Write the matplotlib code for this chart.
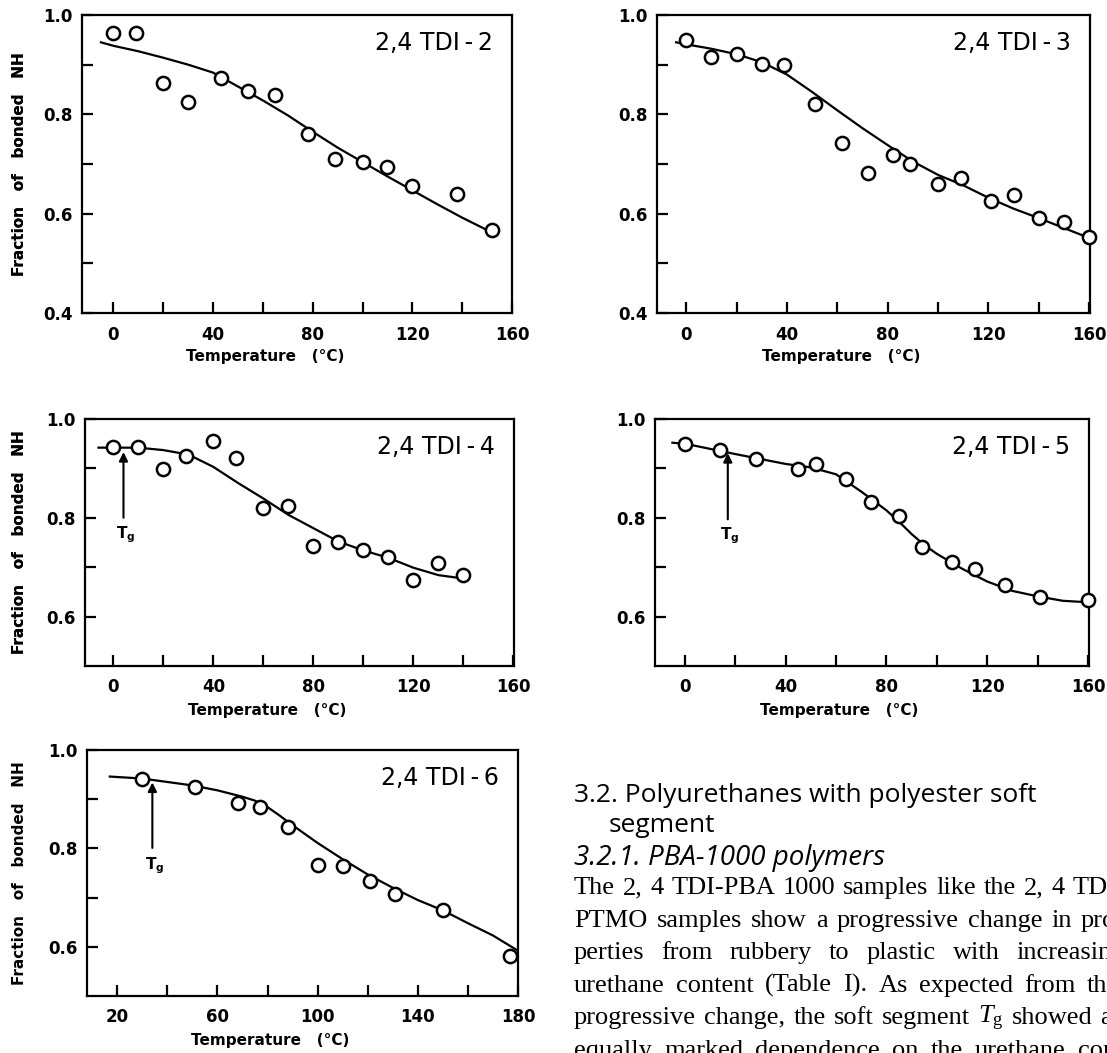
import matplotlib
matplotlib.use('Agg')
import matplotlib.pyplot as plt

W, H = 1107, 1053

# --- data ---
# 2,4 TDI-2
t2 = [0, 9, 20, 30, 43, 54, 65, 78, 89, 100, 110, 120, 138, 152]
f2 = [0.964, 0.964, 0.863, 0.824, 0.874, 0.846, 0.838, 0.761, 0.710, 0.704, 0.693, 0.655, 0.640, 0.567]
fit2_t = [-5, 0, 10, 20, 30, 40, 50, 60, 70, 80, 90, 100, 110, 120, 130, 140, 152]
fit2_f = [0.945, 0.938, 0.927, 0.914, 0.900, 0.884, 0.856, 0.828, 0.798, 0.765, 0.733, 0.704,
          0.675, 0.647, 0.619, 0.592, 0.562]

# 2,4 TDI-3
t3 = [0, 10, 20, 30, 39, 51, 62, 72, 82, 89, 100, 109, 121, 130, 140, 150, 160]
f3 = [0.949, 0.915, 0.922, 0.902, 0.899, 0.821, 0.742, 0.682, 0.718, 0.701, 0.660, 0.671,
      0.625, 0.638, 0.591, 0.583, 0.553]
fit3_t = [-4, 0, 10, 20, 30, 40, 50, 60, 70, 80, 90, 100, 110, 120, 130, 140, 150, 160]
fit3_f = [0.945, 0.941, 0.932, 0.921, 0.905, 0.880, 0.845, 0.808, 0.772, 0.738, 0.705, 0.678,
          0.657, 0.632, 0.610, 0.591, 0.571, 0.551]

# 2,4 TDI-4
t4 = [0, 10, 20, 29, 40, 49, 60, 70, 80, 90, 100, 110, 120, 130, 140]
f4 = [0.944, 0.943, 0.898, 0.925, 0.955, 0.921, 0.819, 0.823, 0.742, 0.751, 0.734, 0.720,
      0.675, 0.708, 0.684]
fit4_t = [-6, 0, 10, 20, 30, 40, 50, 60, 70, 80, 90, 100, 110, 120, 130, 140]
fit4_f = [0.942, 0.942, 0.942, 0.937, 0.928, 0.903, 0.870, 0.839, 0.806, 0.779, 0.752, 0.734,
          0.719, 0.699, 0.684, 0.677]

# 2,4 TDI-5
t5 = [0, 14, 28, 45, 52, 64, 74, 85, 94, 106, 115, 127, 141, 160]
f5 = [0.950, 0.937, 0.920, 0.899, 0.909, 0.878, 0.832, 0.804, 0.740, 0.711, 0.696, 0.664,
      0.639, 0.634]
fit5_t = [-5, 0, 20, 40, 50, 60, 70, 75, 80, 85, 90, 95, 100, 110, 120, 130, 140, 150, 160]
fit5_f = [0.952, 0.950, 0.929, 0.909, 0.902, 0.888, 0.853, 0.834, 0.815, 0.792, 0.767, 0.745,
          0.727, 0.697, 0.671, 0.652, 0.641, 0.632, 0.629]

# 2,4 TDI-6
t6 = [30, 51, 68, 77, 88, 100, 110, 121, 131, 150, 177]
f6 = [0.942, 0.924, 0.892, 0.884, 0.843, 0.767, 0.764, 0.734, 0.707, 0.674, 0.581]
fit6_t = [17, 30, 40, 50, 60, 70, 75, 80, 85, 90, 100, 110, 120, 130, 140, 150, 160, 170, 180]
fit6_f = [0.946, 0.942, 0.935, 0.928, 0.918, 0.905, 0.897, 0.884, 0.866, 0.847, 0.811, 0.778,
          0.747, 0.720, 0.695, 0.674, 0.648, 0.623, 0.592]

# Tg arrows: x, arrow tip, arrow tail, label y
tg4 = [4, 0.933, 0.800, 0.766]
tg5 = [17, 0.931, 0.797, 0.763]
tg6 = [34, 0.934, 0.801, 0.764]

plt.rcParams['font.family'] = ['DejaVu Sans']
plt.rcParams['mathtext.fontset'] = 'custom'
plt.rcParams['mathtext.rm'] = 'Liberation Serif'
plt.rcParams['mathtext.it'] = 'Liberation Serif:italic'
plt.rcParams['mathtext.bf'] = 'DejaVu Sans:bold'

fig = plt.figure(figsize=(W / 100, H / 100), dpi=100)


def panel(box, xlim, ylim, xmaj, xmin, ymaj, ymin, t, f, fit_t, fit_f, name, tg=None):
    l, r, top, bot = box
    ax = fig.add_axes([l / W, 1 - bot / H, (r - l) / W, (bot - top) / H])
    ax.plot(fit_t, fit_f, color='black', lw=1.6, zorder=2)
    ax.plot(t, f, 'o', ms=9.5, mfc='white', mec='black', mew=1.8, zorder=3, clip_on=False)
    ax.set_xlim(xlim)
    ax.set_ylim(ylim)
    ax.set_xticks(xmaj)
    ax.set_xticks(xmin, minor=True)
    ax.set_yticks(ymaj)
    ax.set_yticks(ymin, minor=True)
    ax.set_yticklabels([f'{v:.1f}' for v in ymaj])
    ax.tick_params(which='both', direction='in', length=8, width=1.6, top=False, right=False,
                   labelsize=12)
    ax.tick_params(axis='x', pad=9)
    ax.tick_params(axis='y', pad=7)
    for lbl in ax.get_xticklabels() + ax.get_yticklabels():
        lbl.set_fontweight('bold')
    for s in ax.spines.values():
        s.set_linewidth(1.6)
    ax.set_xlabel('Temperature   (°C)', fontsize=11, fontweight='bold')
    ax.xaxis.set_label_coords(0.425, -44 / (bot - top))
    ax.xaxis.label.set_va('center')
    ax.set_ylabel('Fraction   of   bonded   NH', fontsize=11, fontweight='bold')
    ax.yaxis.set_label_coords(-(l - 20) / (r - l), 0.5)
    ax.yaxis.label.set_va('center')
    ax.text(1 - 19 / (r - l), 1 - 28 / (bot - top), name, transform=ax.transAxes,
            ha='right', va='center', fontsize=17)
    if tg:
        x, tip, tail, ty = tg
        ax.annotate('', xy=(x, tip), xytext=(x, tail),
                    arrowprops=dict(arrowstyle='-|>', color='black', lw=1.5,
                                    mutation_scale=13, shrinkA=0, shrinkB=0))
        ax.text(x + 0.8, ty, r'$\mathbf{T_g}$', ha='center', va='center', fontsize=11)
    return ax


panel((82, 512, 15, 313), (-12.6, 159.6), (0.4, 1.0), [0, 40, 80, 120, 160], [20, 60, 100, 140],
      [0.4, 0.6, 0.8, 1.0], [0.5, 0.7, 0.9], t2, f2, fit2_t, fit2_f, '2,4 TDI\u2009-\u20092')
panel((657, 1090, 15, 313), (-11.6, 160.3), (0.4, 1.0), [0, 40, 80, 120, 160], [20, 60, 100, 140],
      [0.4, 0.6, 0.8, 1.0], [0.5, 0.7, 0.9], t3, f3, fit3_t, fit3_f, '2,4 TDI\u2009-\u20093')
panel((85, 514, 419, 666), (-11.4, 160.3), (0.5, 1.0), [0, 40, 80, 120, 160], [20, 60, 100, 140],
      [0.6, 0.8, 1.0], [0.7, 0.9], t4, f4, fit4_t, fit4_f, '2,4 TDI\u2009-\u20094', tg4)
panel((655, 1089, 419, 666), (-11.9, 160.4), (0.5, 1.0), [0, 40, 80, 120, 160], [20, 60, 100, 140],
      [0.6, 0.8, 1.0], [0.7, 0.9], t5, f5, fit5_t, fit5_f, '2,4 TDI\u2009-\u20095', tg5)
panel((87, 518, 750, 996), (7.9, 180), (0.5, 1.0), [20, 60, 100, 140, 180], [40, 80, 120, 160],
      [0.6, 0.8, 1.0], [0.7, 0.9], t6, f6, fit6_t, fit6_f, '2,4 TDI\u2009-\u20096', tg6)

# --- running text of the page, bottom right (cut by the page edge as in the scan) ---
fig.text(574 / W, 1 - 795 / H, '3.2. Polyurethanes with polyester soft', fontsize=19,
         family='Open Sans', va='center')
fig.text(609 / W, 1 - 825 / H, 'segment', fontsize=19, family='Open Sans', va='center')
fig.text(574 / W, 1 - 858 / H, '3.2.1. PBA-1000 polymers', fontsize=20, family='Open Sans',
         style='italic', va='center')

body = [
    'The 2, 4 TDI-PBA 1000 samples like the 2, 4 TDI-',
    'PTMO samples show a progressive change in pro-',
    'perties from rubbery to plastic with increasing',
    'urethane content (Table I). As expected from this',
    r'progressive change, the soft segment $T_{\mathrm{g}}$ showed an',
    'equally marked dependence on the urethane con-',
]

renderer = fig.canvas.get_renderer()
x0, x1 = 574, 1125
for i, line in enumerate(body):
    y = 1 - (888 + 32.6 * i) / H
    words = line.split(' ')
    items = [fig.text(0, y, w, fontsize=19, family='Liberation Serif', va='center')
             for w in words]
    widths = [t.get_window_extent(renderer).width for t in items]
    gap = (x1 - x0 - sum(widths)) / (len(words) - 1)
    x = x0
    for t, w in zip(items, widths):
        t.set_x(x / W)
        x += w + gap

fig.savefig('out.png', dpi=100)
